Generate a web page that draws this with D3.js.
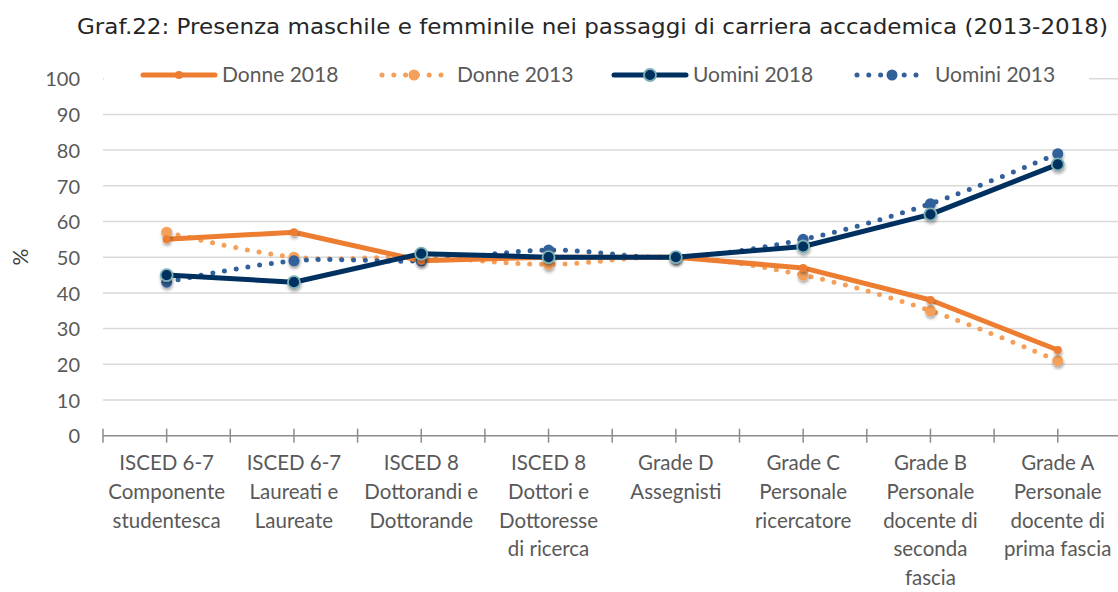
<!DOCTYPE html>
<html>
<head>
<meta charset="utf-8">
<script src="https://cdn.jsdelivr.net/npm/d3@7"></script>
<style>
  html, body { margin: 0; padding: 0; background: #fff; }
  svg { display: block; }
</style>
</head>
<body>
<svg id="chart" width="1118" height="592"></svg>
<script>
// ---- data ----
const categories = [
  ["ISCED 6-7", "Componente", "studentesca"],
  ["ISCED 6-7", "Laureati e", "Laureate"],
  ["ISCED 8", "Dottorandi e", "Dottorande"],
  ["ISCED 8", "Dottori e", "Dottoresse", "di ricerca"],
  ["Grade D", "Assegnisti"],
  ["Grade C", "Personale", "ricercatore"],
  ["Grade B", "Personale", "docente di", "seconda", "fascia"],
  ["Grade A", "Personale", "docente di", "prima fascia"]
];
const donne2018  = [55, 57, 49, 50, 50, 47, 38, 24];
const donne2013  = [57, 50, 50, 48, 50, 45, 35, 21];
const uomini2018 = [45, 43, 51, 50, 50, 53, 62, 76];
const uomini2013 = [43, 49, 49, 52, 50, 55, 65, 79];
const yTicks = [0, 10, 20, 30, 40, 50, 60, 70, 80, 90, 100];
const seriesNames = ["Donne 2018", "Donne 2013", "Uomini 2018", "Uomini 2013"];
const titleText = "Graf.22: Presenza maschile e femminile nei passaggi di carriera accademica (2013-2018)";
const yAxisTitle = "%";

// ---- styles ----
const series = [
  {name: seriesNames[0], values: donne2018, color: "#ED7D31", width: 5, dotted: false, r: 4, fill: "#ED7D31", stroke: "none"},
  {name: seriesNames[1], values: donne2013, color: "#F5A05A", width: 5, dotted: true, r: 5.5, fill: "#F5A05A", stroke: "none"},
  {name: seriesNames[2], values: uomini2018, color: "#00305F", width: 5, dotted: false, r: 6, fill: "#00305F", stroke: "#7FB0B6"},
  {name: seriesNames[3], values: uomini2013, color: "#32609A", width: 5, dotted: true, r: 5.5, fill: "#32609A", stroke: "none"}
];

const svg = d3.select("#chart");
const labelFont = "Lato, 'Open Sans', sans-serif";

const defs = svg.append("defs");
const f = defs.append("filter").attr("id", "shadow").attr("x", "-50%").attr("y", "-50%").attr("width", "200%").attr("height", "200%");
f.append("feDropShadow").attr("dx", 0.5).attr("dy", 2.5).attr("stdDeviation", 1.8)
  .attr("flood-color", "#000").attr("flood-opacity", 0.35);

const x0 = 103, bandW = 127.3;
const x = d3.scaleBand().domain(d3.range(categories.length)).range([x0, x0 + bandW * categories.length]).padding(0);
const y = d3.scaleLinear().domain([0, 100]).range([435.7, 78.7]);
const cx = i => x(i) + x.bandwidth() / 2;

// title
svg.append("text")
  .attr("x", 77).attr("y", 34)
  .attr("textLength", 1031).attr("lengthAdjust", "spacingAndGlyphs")
  .style("font-family", "'DejaVu Sans', sans-serif").style("font-size", "21px")
  .attr("fill", "#262626")
  .text(titleText);

// gridlines
svg.append("g").selectAll("line").data(yTicks.filter(d => d > 0)).join("line")
  .attr("x1", x0).attr("x2", 1118)
  .attr("y1", d => y(d)).attr("y2", d => y(d))
  .attr("stroke", "#D9D9D9").attr("stroke-width", 1.5);

// y axis labels
const yAxis = d3.axisLeft(y).tickValues(yTicks).tickSize(0).tickPadding(0);
const gy = svg.append("g").attr("transform", "translate(80,0)").call(yAxis);
gy.select(".domain").remove();
gy.selectAll("text").style("font-family", labelFont).style("font-size", "20px").attr("fill", "#595959").attr("dy", "0.36em");

// y title
svg.append("text")
  .attr("transform", "translate(28,257) rotate(-90)")
  .attr("text-anchor", "middle")
  .style("font-family", labelFont).style("font-size", "21px").attr("fill", "#404040")
  .text(yAxisTitle);

// x axis line + ticks
svg.append("line").attr("x1", x0).attr("x2", 1118).attr("y1", y(0)).attr("y2", y(0))
  .attr("stroke", "#8C8C8C").attr("stroke-width", 1.5);
const tickXs = [];
categories.forEach((c, i) => { tickXs.push(x(i)); tickXs.push(cx(i)); });
svg.append("g").selectAll("line").data(tickXs).join("line")
  .attr("x1", d => d).attr("x2", d => d)
  .attr("y1", y(0) - 7).attr("y2", y(0) + 7)
  .attr("stroke", "#8C8C8C").attr("stroke-width", 1.5);

// x labels
const gx = svg.append("g");
categories.forEach((lines, i) => {
  lines.forEach((ln, k) => {
    gx.append("text").attr("text-anchor", "middle")
      .style("font-family", labelFont).style("font-size", "20.5px").attr("fill", "#595959")
      .attr("x", cx(i)).attr("y", 470 + k * 28.8).text(ln);
  });
});

// lines
const lineLinear = d3.line().x((d, i) => cx(i)).y(d => y(d));
const lineSmooth = d3.line().x((d, i) => cx(i)).y(d => y(d)).curve(d3.curveCardinal.tension(0));
const drawOrder = [1, 3, 0, 2];
drawOrder.forEach(si => {
  const s = series[si];
  svg.append("path").datum(s.values)
    .attr("d", s.dotted ? lineSmooth : lineLinear)
    .attr("fill", "none").attr("stroke", s.color).attr("stroke-width", s.width)
    .attr("stroke-linecap", "round").attr("stroke-linejoin", "round")
    .attr("stroke-dasharray", s.dotted ? "0 11.8" : null);
});
drawOrder.forEach(si => {
  const s = series[si];
  svg.append("g").attr("filter", "url(#shadow)").selectAll("circle").data(s.values).join("circle")
    .attr("cx", (d, i) => cx(i)).attr("cy", d => y(d)).attr("r", s.r)
    .attr("fill", s.fill).attr("stroke", s.stroke).attr("stroke-width", s.stroke === "none" ? 0 : 1.8);
});

// legend
svg.append("rect").attr("x", 104).attr("y", 62).attr("width", 985).attr("height", 26).attr("fill", "#fff");
const legendItems = [
  {s: series[0], x1: 143, x2: 215, mx: 179, tx: 222},
  {s: series[1], x1: 382, x2: 442, mx: 414, tx: 457},
  {s: series[2], x1: 614, x2: 686, mx: 650, tx: 693},
  {s: series[3], x1: 857, x2: 920, mx: 892, tx: 935}
];
const ly = 75;
legendItems.forEach(it => {
  const s = it.s;
  svg.append("line").attr("x1", it.x1).attr("x2", it.x2).attr("y1", ly).attr("y2", ly)
    .attr("stroke", s.color).attr("stroke-width", s.width).attr("stroke-linecap", "round")
    .attr("stroke-dasharray", s.dotted ? "0 11.8" : null);
  svg.append("circle").attr("cx", it.mx).attr("cy", ly).attr("r", s.dotted ? 5.5 : s.r)
    .attr("fill", s.fill).attr("stroke", s.stroke).attr("stroke-width", s.stroke === "none" ? 0 : 1.8);
  svg.append("text").attr("x", it.tx).attr("y", ly + 7)
    .style("font-family", labelFont).style("font-size", "21px").attr("fill", "#595959")
    .text(s.name);
});
</script>
</body>
</html>
